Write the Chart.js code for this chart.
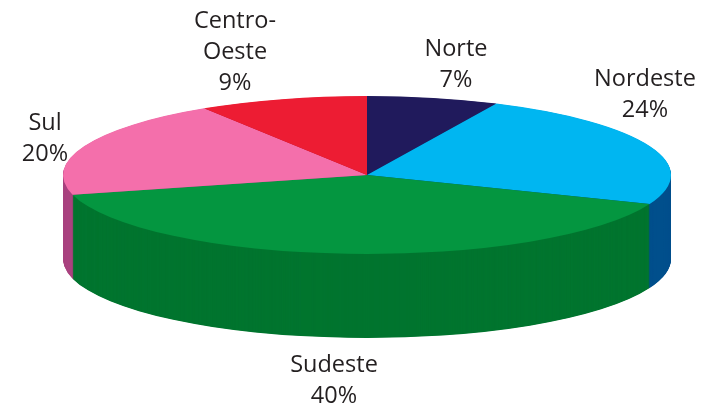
<!DOCTYPE html>
<html><head><meta charset="utf-8">
<style>html,body{margin:0;padding:0;background:#fff}#w{width:708px;height:406px}</style>
<script src="https://cdn.jsdelivr.net/npm/chart.js@4"></script>
</head><body><div id="w"><canvas id="c" width="708" height="406"></canvas></div>
<script>
const regions = ['Norte','Nordeste','Sudeste','Sul','Centro-Oeste'];
const shares = [7,24,40,20,9];
const topColors = ['#201a5c','#00b6f1','#049640','#f46fab','#ed1c33'];
const wallColors = ['#17124a','#004f8c','#01752f','#a9427f','#b51228'];
const labelLines = [['Norte','7%'],['Nordeste','24%'],['Sudeste','40%'],['Sul','20%'],['Centro-','Oeste','9%']];
const labelX = [456,645,334,45,235];
const labelBaseY = [56,86,372,130,28];
const lineGap = 31;
const centerX = 367, centerY = 175, radiusX = 304, radiusY = 79, depth = 84;

const pie3d = {
  id:'pie3d',
  beforeDatasetsDraw(chart){
    const ctx = chart.ctx, arcs = chart.getDatasetMeta(0).data;
    const a0 = arcs[0];
    const apply = dy => {
      ctx.translate(centerX, centerY + dy);
      ctx.scale(radiusX / a0.outerRadius, radiusY / a0.outerRadius);
      ctx.translate(-a0.x, -a0.y);
    };
    for (let d = depth; d > 0; d -= 0.5) {
      ctx.save(); apply(d);
      arcs.forEach((arc,i) => {
        const o = arc.options;
        arc.options = Object.assign({}, o, {backgroundColor: wallColors[i], borderWidth:0});
        arc.draw(ctx);
        arc.options = o;
      });
      ctx.restore();
    }
    ctx.save(); apply(0);
  },
  afterDatasetsDraw(chart){
    const ctx = chart.ctx;
    ctx.restore();
    ctx.save();
    ctx.fillStyle = '#231f20';
    ctx.font = '23.5px "Open Sans"';
    ctx.textAlign = 'center';
    ctx.textBaseline = 'alphabetic';
    labelLines.forEach((lines,i) => lines.forEach((t,j) =>
      ctx.fillText(t, labelX[i], labelBaseY[i] + j * lineGap)));
    ctx.restore();
  }
};
new Chart(document.getElementById('c'), {
  type:'pie',
  data:{labels:regions,datasets:[{data:shares,backgroundColor:topColors,borderWidth:0}]},
  options:{responsive:false,animation:false,layout:{padding:0},
    plugins:{legend:{display:false},tooltip:{enabled:false}}},
  plugins:[pie3d]
});
</script></body></html>
